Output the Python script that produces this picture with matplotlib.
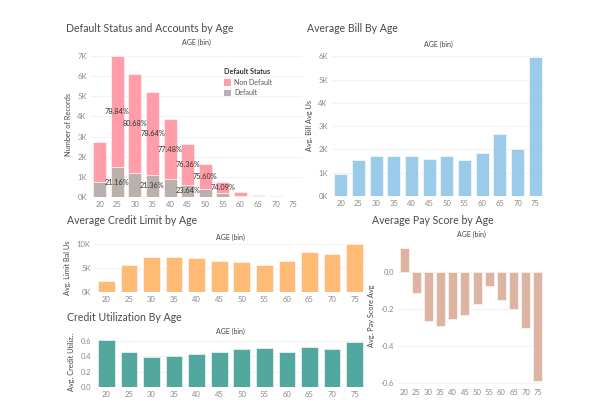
"""
Dashboard: credit card accounts by age bin (five small bar charts).
Output: out.png
"""
import matplotlib
matplotlib.use("Agg")
import matplotlib.pyplot as plt
import matplotlib.ticker as mticker
from matplotlib.patches import Patch
import numpy as np

plt.rcParams.update({
    "font.family":       ["Lato", "DejaVu Sans"],
    "axes.spines.top":   False,
    "axes.spines.right": False,
    "axes.spines.left":  False,
    "axes.spines.bottom": False,
})

# Data
age_bins = ["20", "25", "30", "35", "40", "45", "50", "55", "60", "65", "70", "75"]

records_total = [2720, 7000, 6100, 5200, 3880, 2620, 1630, 720, 230, 115, 30, 5]
default_pct   = [27.60, 21.16, 19.32, 21.36, 22.52, 23.64, 24.40, 25.91, 26.0, 27.0, 28.0, 30.0]
nondefault_label_bins = ["25", "30", "35", "40", "45", "50", "55"]
default_label_bins    = ["25", "35", "45"]

avg_bill         = [930, 1560, 1730, 1730, 1730, 1590, 1730, 1540, 1860, 2670, 2040, 5960]
avg_limit        = [2200, 5550, 7300, 7360, 7000, 6400, 6300, 5700, 6400, 8260, 7850, 10070]
avg_utilization  = [0.613, 0.457, 0.396, 0.404, 0.430, 0.461, 0.500, 0.509, 0.461, 0.517, 0.491, 0.583]
avg_pay_score    = [0.127, -0.111, -0.267, -0.289, -0.255, -0.232, -0.171, -0.075, -0.149, -0.202, -0.303, -0.588]

PINK   = "#FF9DA8"
TAUPE  = "#BAB0AC"
BLUE   = "#9ACBEA"
ORANGE = "#FFBB76"
TEAL   = "#52A89F"
BROWN  = "#DDB3A2"
TITLE_C = "#4a4a4a"
TICK_C  = "#8a8a8a"
TITLE_FS = 7.6

W, H = 600, 419
fig = plt.figure(figsize=(W / 100, H / 100), dpi=100)
fig.patch.set_facecolor("white")


def px_axes(left, top, right, bottom):
    return fig.add_axes([left / W, 1 - bottom / H, (right - left) / W, (bottom - top) / H])


def style(ax, ylabel, formatter=None, header_y=1.04):
    x = np.arange(len(age_bins))
    ax.set_xlim(-0.5, len(age_bins) - 0.5)
    ax.set_xticks(x)
    ax.set_xticklabels(age_bins)
    ax.tick_params(axis="both", length=0, labelsize=5.5, colors=TICK_C, pad=3)
    ax.yaxis.grid(True, color="#f0f0f0", linewidth=0.6, zorder=0)
    ax.set_axisbelow(True)
    ax.set_ylabel(ylabel, fontsize=5.3, color="#444444", labelpad=4)
    ax.text(0.5, header_y, "AGE (bin)", transform=ax.transAxes, ha="center", va="bottom",
            fontsize=5, color="#444444")
    if formatter is not None:
        ax.yaxis.set_major_formatter(formatter)


def title(xpx, ypx, text):
    fig.text(xpx / W, 1 - ypx / H, text, fontsize=TITLE_FS, color=TITLE_C,
             va="center", ha="left")


kfmt = mticker.FuncFormatter(lambda v, p: f"{v / 1000:.0f}K")
x = np.arange(len(age_bins))
edge = dict(edgecolor="white", linewidth=0.4, width=0.74, zorder=3)

# Panel 1: default status stacked bars
ax1 = px_axes(91, 52, 302, 197)
total = np.array(records_total, dtype=float)
pct_def = np.array(default_pct) / 100.0
n_def = total * pct_def
n_non = total - n_def
ax1.bar(x, n_def, color=TAUPE, **edge)
ax1.bar(x, n_non, bottom=n_def, color=PINK, **edge)
for i, b in enumerate(age_bins):
    if b in nondefault_label_bins:
        ax1.text(i, n_def[i] + n_non[i] / 2, f"{100 - default_pct[i]:.2f}%",
                 ha="center", va="center", fontsize=5.3, color="#333333", zorder=4)
    if b in default_label_bins:
        ax1.text(i, n_def[i] / 2, f"{default_pct[i]:.2f}%",
                 ha="center", va="center", fontsize=5.3, color="#333333", zorder=4)
ax1.set_ylim(0, 7200)
ax1.set_yticks(np.arange(0, 7001, 1000))
style(ax1, "Number of Records", kfmt)
leg = ax1.legend(handles=[Patch(facecolor=PINK, label="Non Default"),
                          Patch(facecolor=TAUPE, label="Default")],
                 title="Default Status", loc="upper left", bbox_to_anchor=(0.6, 0.93),
                 frameon=False, fontsize=5, title_fontsize=5.2, handlelength=1.1,
                 handleheight=1.1, handletextpad=0.4, labelspacing=0.5, alignment="left")
leg.get_title().set_fontweight("bold")
leg.get_title().set_color("#333333")
for t in leg.get_texts():
    t.set_color("#555555")
title(66, 28, "Default Status and Accounts by Age")

# Panel 2: average bill
ax2 = px_axes(332, 54, 544, 196)
ax2.bar(x, avg_bill, color=BLUE, **edge)
ax2.set_ylim(0, 6100)
ax2.set_yticks(np.arange(0, 6001, 1000))
style(ax2, "Avg. Bill Avg Us", kfmt)
title(307, 28, "Average Bill By Age")

# Panel 3: average credit limit
ax3 = px_axes(95, 243, 366, 292)
ax3.bar(x, avg_limit, color=ORANGE, **edge)
ax3.set_ylim(0, 10200)
ax3.set_yticks([0, 5000, 10000])
style(ax3, "Avg. Limit Bal Us", kfmt)
title(67, 220, "Average Credit Limit by Age")

# Panel 4: credit utilization
ax4 = px_axes(95, 337, 366, 387)
ax4.bar(x, avg_utilization, color=TEAL, **edge)
ax4.set_ylim(0, 0.65)
ax4.set_yticks([0.0, 0.2, 0.4, 0.6])
style(ax4, "Avg. Credit Utiliz..", mticker.FormatStrFormatter("%.1f"))
title(67, 317, "Credit Utilization By Age")

# Panel 5: average pay score
ax5 = px_axes(398, 246, 544, 385)
ax5.bar(x, avg_pay_score, color=BROWN, **edge)
ax5.set_ylim(-0.61, 0.14)
ax5.set_yticks([-0.6, -0.4, -0.2, 0.0])
style(ax5, "Avg. Pay Score Avg", mticker.FormatStrFormatter("%.1f"), header_y=1.06)
title(372, 220, "Average Pay Score by Age")

fig.savefig("out.png", dpi=100)
plt.close(fig)
